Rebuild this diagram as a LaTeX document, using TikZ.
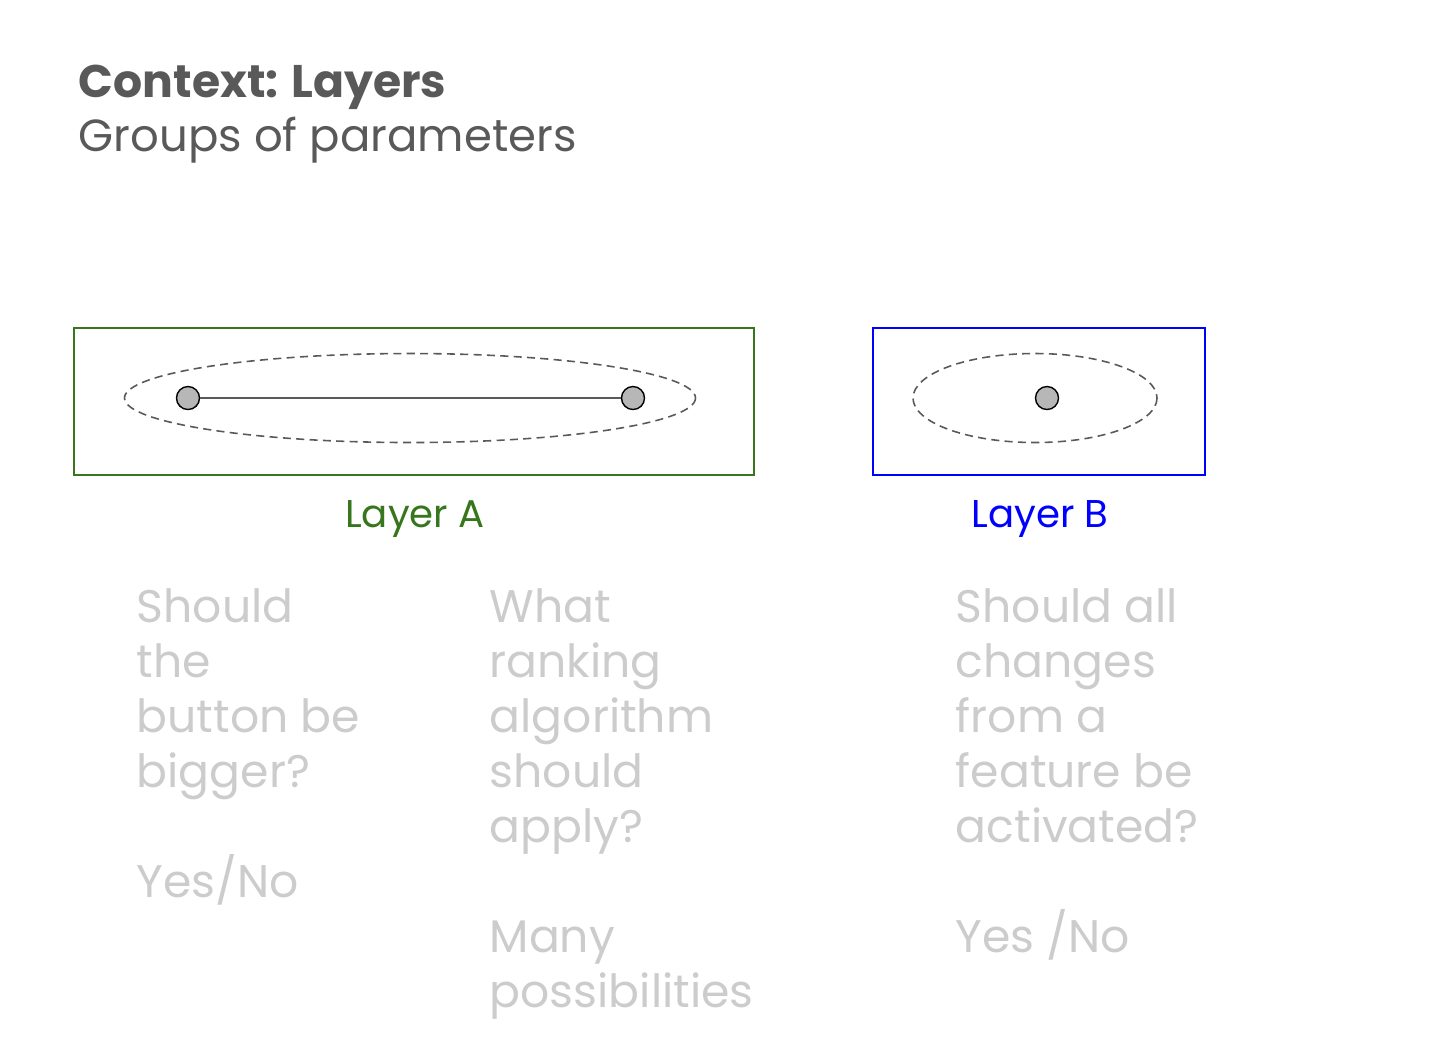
\documentclass[tikz,border=0pt]{standalone}
\usepackage{fontspec}
\setmainfont{Poppins}
\usepackage{xcolor}
\usepackage{tikz}
\usetikzlibrary{calc}

\definecolor{titlegray}{HTML}{595959}
\definecolor{layergreen}{HTML}{38761D}
\definecolor{layerblue}{HTML}{0000FF}
\definecolor{dotgray}{HTML}{B7B7B7}
\definecolor{qgray}{HTML}{CCCCCC}

\begin{document}
\begin{tikzpicture}[x=0.01cm, y=-0.01cm,
  heading/.style={anchor=base west, inner sep=0pt, text=titlegray, font=\fontsize{12.8}{15}\selectfont},
  question/.style={anchor=base west, inner sep=0pt, text=qgray, font=\fontsize{13}{15.5}\selectfont},
  layerlabel/.style={anchor=base, inner sep=0pt, font=\fontsize{11}{13}\selectfont},
  param/.style={circle, inner sep=0pt, minimum size=0.23cm, fill=dotgray, draw=black, line width=0.4pt},
  group/.style={dashed, dash pattern=on 2.3pt off 1.5pt, draw=titlegray, line width=0.45pt}]

\useasboundingbox (0,0) rectangle (1446,1062);

\node[heading, font=\fontsize{13}{15.5}\selectfont\bfseries] (title) at (78,97) {Context: Layers};
\node[heading] (subtitle) at (78,151) {Groups of parameters};

% layer A
\draw[layergreen, line width=0.6pt] (74,328) rectangle (754,475);
\draw[group] (410,398) ellipse (285.5 and 44.5);
\node[param] (a1) at (188,398) {};
\node[param] (a2) at (633,398) {};
\draw[titlegray, line width=0.6pt] (a1) -- (a2);
\node[layerlabel, text=layergreen] (labelA) at (415,527) {Layer A};

% layer B
\draw[layerblue, line width=0.6pt] (873,328) rectangle (1205,475);
\draw[group] (1035,398) ellipse (122 and 44.5);
\node[param] (b1) at (1047,398) {};
\node[layerlabel, text=layerblue] (labelB) at (1040,527) {Layer B};

% questions
\foreach \n/\txt in {1/Should, 2/the, 3/button be, 4/bigger?, 6/{Yes/No}}
{
	\node[question] (qa-\n) at (136,567+55*\n) {\txt};
}
\foreach \n/\txt in {1/What, 2/ranking, 3/algorithm, 4/should, 5/apply?, 7/Many, 8/possibilities}
{
	\node[question] (qb-\n) at (489,567+55*\n) {\txt};
}
\foreach \n/\txt in {1/Should all, 2/changes, 3/from a, 4/feature be, 5/activated?, 7/{Yes /No}}
{
	\node[question] (qc-\n) at (955,567+55*\n) {\txt};
}

\end{tikzpicture}
\end{document}
